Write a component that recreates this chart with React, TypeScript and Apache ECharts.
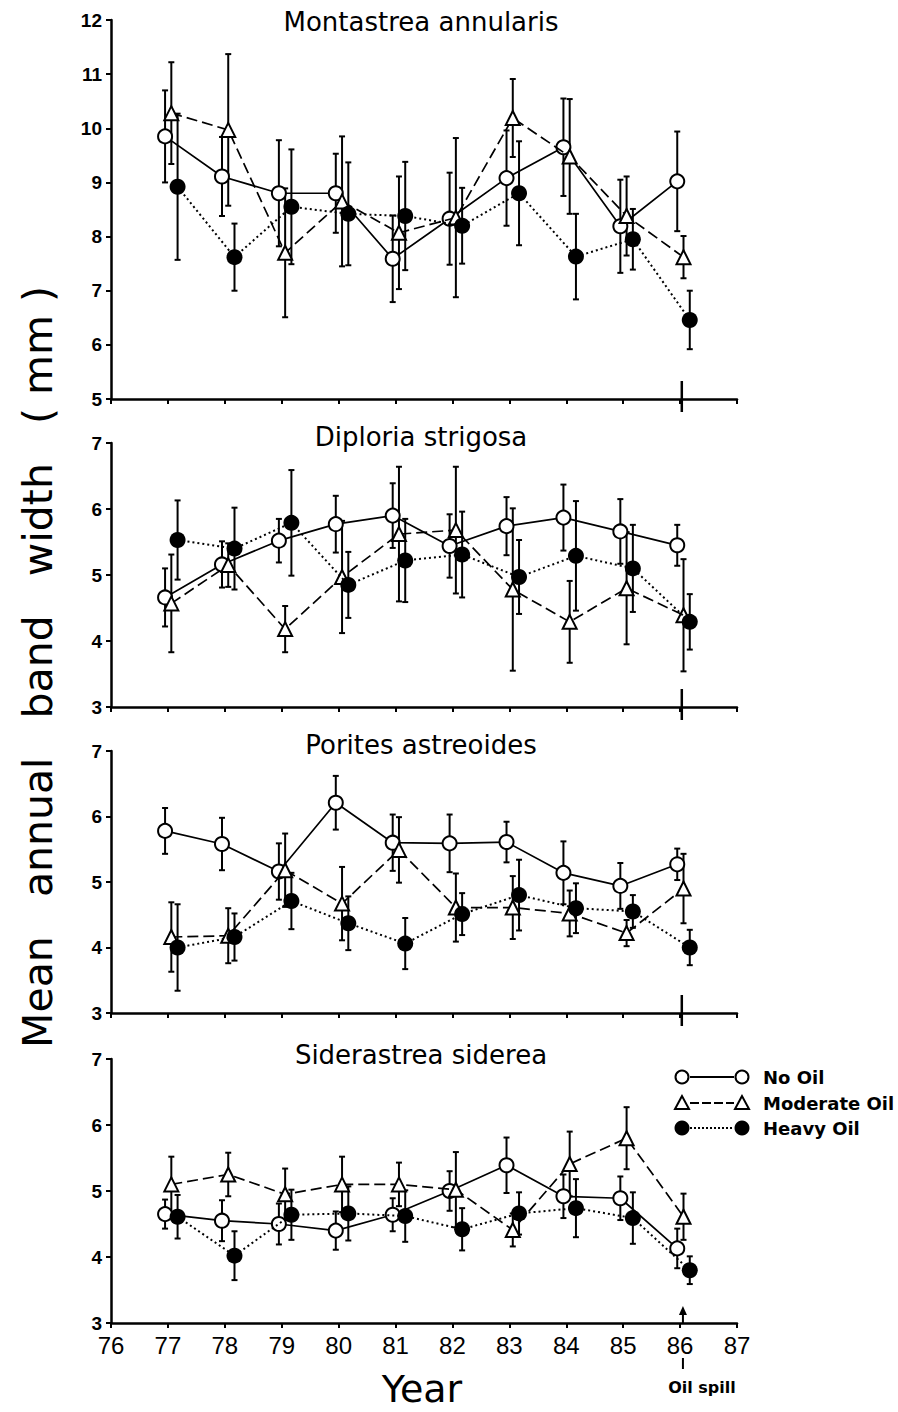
import React, { useEffect, useRef } from "react";
import * as echarts from "echarts";

// ---------- data ----------
const years = [77, 78, 79, 80, 81, 82, 83, 84, 85, 86];
const panelTitles = ["Montastrea annularis", "Diploria strigosa", "Porites astreoides", "Siderastrea siderea"];
const groupNames = ["No Oil", "Moderate Oil", "Heavy Oil"];
const yMins = [5, 3, 3, 3];
const yMaxs = [12, 7, 7, 7];
const xMin = 76;
const xMax = 87;
const oilSpillYear = 86;

// Montastrea annularis
const montNoOil = [9.85, 9.11, 8.8, 8.8, 7.59, 8.33, 9.08, 9.65, 8.19, 9.02];
const montNoOilErr = [0.85, 0.73, 0.98, 0.73, 0.8, 0.85, 0.88, 0.9, 0.86, 0.92];
const montMod = [10.28, 9.97, 7.7, 8.65, 8.07, 8.35, 10.19, 9.48, 8.38, 7.62];
const montModErr = [0.94, 1.4, 1.19, 1.2, 1.04, 1.47, 0.72, 1.06, 0.73, 0.39];
const montHeavy = [8.92, 7.62, 8.55, 8.42, 8.38, 8.2, 8.8, 7.63, 7.95, 6.46];
const montHeavyErr = [1.35, 0.62, 1.06, 0.95, 1.0, 0.7, 0.96, 0.79, 0.56, 0.54];

// Diploria strigosa
const diplNoOil = [4.66, 5.16, 5.52, 5.77, 5.9, 5.44, 5.74, 5.87, 5.66, 5.45];
const diplNoOilErr = [0.44, 0.35, 0.33, 0.43, 0.49, 0.48, 0.44, 0.5, 0.49, 0.31];
const diplMod = [4.57, 5.15, 4.18, 4.97, 5.62, 5.68, 4.78, 4.29, 4.8, 4.39];
const diplModErr = [0.74, 0.33, 0.35, 0.85, 1.02, 0.96, 1.23, 0.62, 0.85, 0.85];
const diplHeavy = [5.53, 5.4, 5.79, 4.85, 5.22, 5.31, 4.97, 5.29, 5.1, 4.29];
const diplHeavyErr = [0.6, 0.62, 0.8, 0.5, 0.63, 0.65, 0.56, 0.83, 0.66, 0.42];

// Porites astreoides
const poriNoOil = [5.78, 5.58, 5.16, 6.21, 5.6, 5.59, 5.61, 5.14, 4.94, 5.27];
const poriNoOilErr = [0.35, 0.4, 0.43, 0.41, 0.43, 0.44, 0.31, 0.48, 0.35, 0.24];
const poriMod = [4.16, 4.18, 5.18, 4.67, 5.49, 4.61, 4.61, 4.52, 4.22, 4.9];
const poriModErr = [0.53, 0.42, 0.56, 0.56, 0.5, 0.52, 0.48, 0.35, 0.2, 0.53];
const poriHeavy = [4.0, 4.16, 4.71, 4.37, 4.06, 4.51, 4.8, 4.6, 4.55, 4.0];
const poriHeavyErr = [0.66, 0.36, 0.43, 0.41, 0.39, 0.32, 0.54, 0.38, 0.25, 0.27];

// Siderastrea siderea
const sideNoOil = [4.65, 4.55, 4.5, 4.4, 4.64, 5.0, 5.39, 4.92, 4.89, 4.13];
const sideNoOilErr = [0.22, 0.31, 0.31, 0.29, 0.25, 0.3, 0.42, 0.33, 0.33, 0.3];
const sideMod = [5.1, 5.25, 4.95, 5.1, 5.1, 5.02, 4.41, 5.41, 5.8, 4.61];
const sideModErr = [0.42, 0.33, 0.39, 0.42, 0.33, 0.57, 0.25, 0.49, 0.47, 0.35];
const sideHeavy = [4.61, 4.02, 4.64, 4.66, 4.62, 4.42, 4.66, 4.74, 4.59, 3.8];
const sideHeavyErr = [0.33, 0.37, 0.38, 0.41, 0.39, 0.32, 0.32, 0.44, 0.39, 0.21];

const panelValues = [
  [montNoOil, montMod, montHeavy],
  [diplNoOil, diplMod, diplHeavy],
  [poriNoOil, poriMod, poriHeavy],
  [sideNoOil, sideMod, sideHeavy],
];
const panelErrors = [
  [montNoOilErr, montModErr, montHeavyErr],
  [diplNoOilErr, diplModErr, diplHeavyErr],
  [poriNoOilErr, poriModErr, poriHeavyErr],
  [sideNoOilErr, sideModErr, sideHeavyErr],
];

// ---------- layout / style ----------
const W = 898;
const H = 1412;
const gridLeft = 111;
const gridWidth = 626;
const gridTops = [20, 443, 751, 1059];
const gridHeights = [379, 264, 262, 264];
const groupOffsets = [-0.05, 0.06, 0.17];
const FONT = "DejaVu Sans";
const TICKFONT = "Liberation Sans";

const symbolOf = ["circle", "triangle", "circle"];
const symbolSizes = [14, 14, 16];
const lineTypes: any[] = ["solid", [11, 5], [2, 3]];

function errorBarRender(params: any, api: any) {
  const x = api.value(0);
  const y = api.value(1);
  const e = api.value(2);
  const top = api.coord([x, y + e]);
  const bot = api.coord([x, y - e]);
  const cw = 3;
  const style = { stroke: "#000", lineWidth: 2 };
  return {
    type: "group",
    children: [
      { type: "line", shape: { x1: top[0], y1: top[1], x2: bot[0], y2: bot[1] }, style },
      { type: "line", shape: { x1: top[0] - cw, y1: top[1], x2: top[0] + cw, y2: top[1] }, style },
      { type: "line", shape: { x1: bot[0] - cw, y1: bot[1], x2: bot[0] + cw, y2: bot[1] }, style },
    ],
  };
}

export default function App() {
  const ref = useRef<HTMLDivElement>(null);

  useEffect(() => {
    if (!ref.current) return;
    const chart = echarts.init(ref.current, undefined, { renderer: "svg", width: W, height: H });

    const grids = gridTops.map((t, i) => ({
      left: gridLeft,
      width: gridWidth,
      top: t,
      height: gridHeights[i],
      containLabel: false,
    }));

    const xAxes = gridTops.map((_, i) => ({
      type: "value",
      gridIndex: i,
      min: xMin,
      max: xMax,
      interval: 1,
      axisLine: { show: true, onZero: false, lineStyle: { color: "#000", width: 2.5 } },
      axisTick: { show: true, length: 5, lineStyle: { color: "#000", width: 2 } },
      axisLabel: {
        show: i === 3,
        color: "#000",
        fontSize: 24,
        fontFamily: TICKFONT,
        margin: 10,
        showMinLabel: true,
        showMaxLabel: true,
      },
      splitLine: { show: false },
    }));

    const yAxes = gridTops.map((_, i) => ({
      type: "value",
      gridIndex: i,
      min: yMins[i],
      max: yMaxs[i],
      interval: 1,
      axisLine: { show: true, onZero: false, lineStyle: { color: "#000", width: 2.5 } },
      axisTick: { show: true, length: 5, lineStyle: { color: "#000", width: 2 } },
      axisLabel: {
        color: "#000",
        fontSize: 19,
        fontWeight: "bold",
        fontFamily: TICKFONT,
        margin: 9,
        showMinLabel: true,
        showMaxLabel: true,
      },
      splitLine: { show: false },
    }));

    const series: any[] = [];
    for (let p = 0; p < 4; p++) {
      for (let g = 0; g < 3; g++) {
        const vals = panelValues[p][g];
        const errs = panelErrors[p][g];
        const off = groupOffsets[g];
        series.push({
          type: "custom",
          name: groupNames[g] + " error " + p,
          xAxisIndex: p,
          yAxisIndex: p,
          renderItem: errorBarRender,
          encode: { x: 0, y: 1 },
          data: years.map((yr, k) => [yr + off, vals[k], errs[k]]),
          z: 2,
          silent: true,
        });
      }
      for (let g = 0; g < 3; g++) {
        const vals = panelValues[p][g];
        const off = groupOffsets[g];
        const filled = g === 2;
        series.push({
          type: "line",
          name: groupNames[g],
          xAxisIndex: p,
          yAxisIndex: p,
          data: years.map((yr, k) => [yr + off, vals[k]]),
          symbol: symbolOf[g],
          symbolSize: symbolSizes[g],
          showSymbol: true,
          lineStyle: { color: "#000", width: g === 2 ? 2 : 1.7, type: lineTypes[g] },
          itemStyle: filled
            ? { color: "#000", borderColor: "#000", borderWidth: 0 }
            : { color: "#fff", borderColor: "#000", borderWidth: 2 },
          z: 3 + g,
          silent: true,
        });
      }
    }

    chart.setOption({
      animation: false,
      backgroundColor: "#fff",
      textStyle: { fontFamily: FONT },
      grid: grids,
      xAxis: xAxes,
      yAxis: yAxes,
      series,
    });

    // annotations computed from axis coordinates
    const graphics: any[] = [];
    // panel titles
    const titleY = [22, 437, 745, 1055];
    panelTitles.forEach((t, i) => {
      graphics.push({
        type: "text",
        x: 421,
        y: titleY[i],
        style: {
          text: t,
          font: `26px "${FONT}"`,
          fill: "#000",
          textAlign: "center",
          textVerticalAlign: "middle",
        },
      });
    });
    // y axis title
    graphics.push({
      type: "text",
      x: 38,
      y: 667,
      rotation: Math.PI / 2,
      style: {
        text: "Mean   annual   band   width   ( mm )",
        font: `41px "${FONT}"`,
        fill: "#000",
        textAlign: "center",
        textVerticalAlign: "middle",
      },
    });
    // x axis title
    graphics.push({
      type: "text",
      x: 422,
      y: 1389,
      style: {
        text: "Year",
        font: `38px "${FONT}"`,
        fill: "#000",
        textAlign: "center",
        textVerticalAlign: "middle",
      },
    });

    // oil spill markers
    for (let p = 0; p < 3; p++) {
      const pt = chart.convertToPixel({ xAxisIndex: p, yAxisIndex: p } as any, [oilSpillYear + 0.03, yMins[p]]) as number[];
      graphics.push({
        type: "line",
        shape: { x1: pt[0], y1: pt[1] - 18, x2: pt[0], y2: pt[1] + 13 },
        style: { stroke: "#000", lineWidth: 2.5 },
      });
    }
    const bp = chart.convertToPixel({ xAxisIndex: 3, yAxisIndex: 3 } as any, [oilSpillYear + 0.05, yMins[3]]) as number[];
    graphics.push({
      type: "line",
      shape: { x1: bp[0], y1: bp[1], x2: bp[0], y2: bp[1] - 12 },
      style: { stroke: "#000", lineWidth: 2 },
    });
    graphics.push({
      type: "polygon",
      shape: { points: [[bp[0], bp[1] - 17], [bp[0] - 4, bp[1] - 8], [bp[0] + 4, bp[1] - 8]] },
      style: { fill: "#000" },
    });
    graphics.push({
      type: "line",
      shape: { x1: bp[0], y1: bp[1] + 35, x2: bp[0], y2: bp[1] + 46 },
      style: { stroke: "#000", lineWidth: 2 },
    });
    graphics.push({
      type: "text",
      x: bp[0] + 19,
      y: bp[1] + 64,
      style: {
        text: "Oil spill",
        font: `bold 16px "${FONT}"`,
        fill: "#000",
        textAlign: "center",
        textVerticalAlign: "middle",
      },
    });

    // legend
    const legY = [1077, 1103, 1128];
    const lx1 = 682;
    const lx2 = 742;
    const legDash: any[] = [null, [9, 3], [2, 2]];
    for (let g = 0; g < 3; g++) {
      const y = legY[g];
      graphics.push({
        type: "line",
        shape: { x1: lx1 + 8, y1: y, x2: lx2 - 8, y2: y },
        style: { stroke: "#000", lineWidth: 2, lineDash: legDash[g] || undefined },
      });
      [lx1, lx2].forEach((cx) => {
        if (g === 0) {
          graphics.push({ type: "circle", shape: { cx, cy: y, r: 6.5 }, style: { fill: "#fff", stroke: "#000", lineWidth: 2 } });
        } else if (g === 1) {
          graphics.push({
            type: "polygon",
            shape: { points: [[cx, y - 7], [cx - 7, y + 6], [cx + 7, y + 6]] },
            style: { fill: "#fff", stroke: "#000", lineWidth: 2 },
          });
        } else {
          graphics.push({ type: "circle", shape: { cx, cy: y, r: 7.5 }, style: { fill: "#000" } });
        }
      });
      graphics.push({
        type: "text",
        x: 763,
        y,
        style: {
          text: groupNames[g],
          font: `bold 18px "${FONT}"`,
          fill: "#000",
          textAlign: "left",
          textVerticalAlign: "middle",
        },
      });
    }

    chart.setOption({ graphic: graphics });

    return () => {
      chart.dispose();
    };
  }, []);

  return (
    <div
      ref={ref}
      style={{ position: "absolute", left: 0, top: 0, width: W, height: H, background: "#fff" }}
    />
  );
}
